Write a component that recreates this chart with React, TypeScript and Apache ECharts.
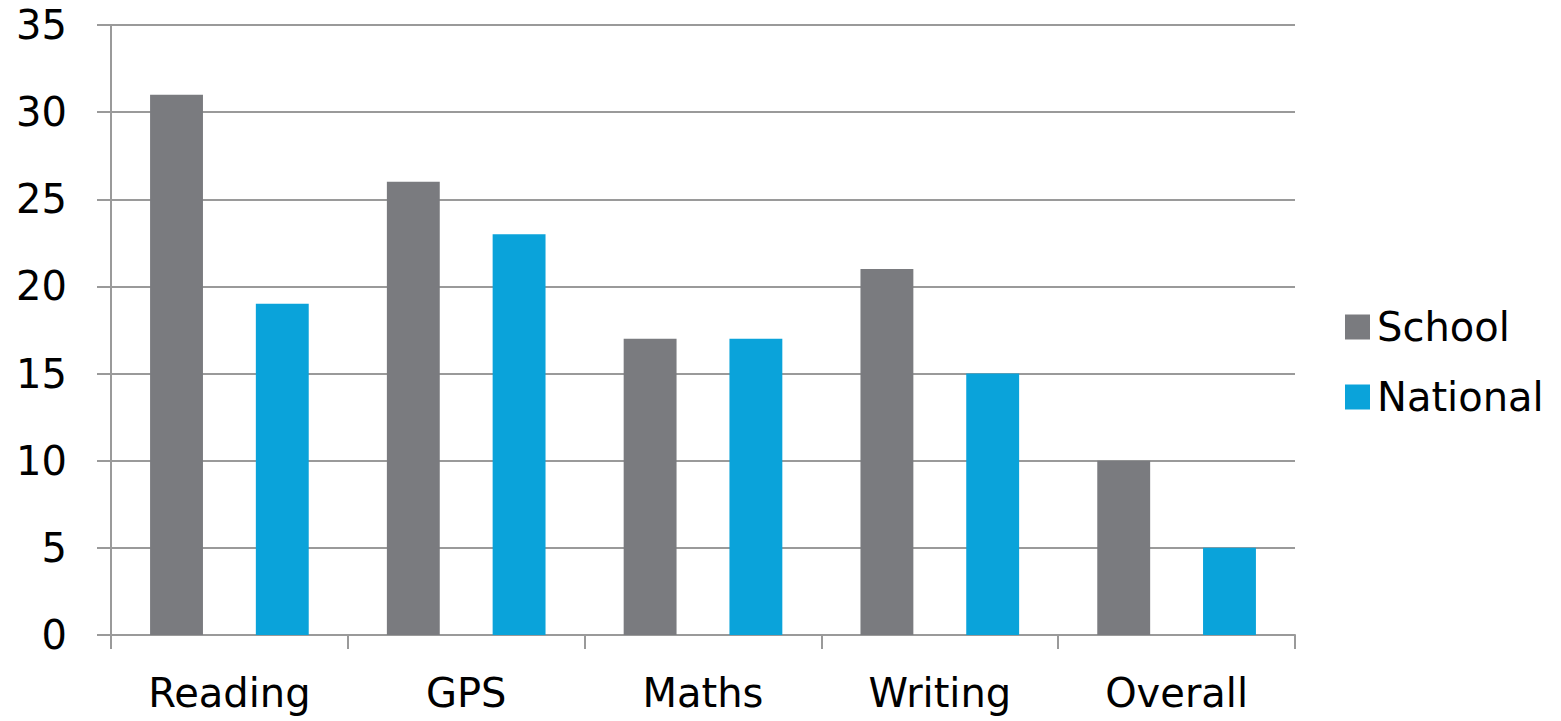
import React, { useEffect, useRef } from "react";
import * as echarts from "echarts";

const categories = ["Reading", "GPS", "Maths", "Writing", "Overall"];
const schoolValues = [31, 26, 17, 21, 10];
const nationalValues = [19, 23, 17, 15, 5];
const seriesNames = ["School", "National"];

const FONT = "'DejaVu Sans', sans-serif";
const AXIS_GRAY = "#9a9a9a";

export default function App() {
  const ref = useRef<HTMLDivElement>(null);

  useEffect(() => {
    document.body.style.margin = "0";
    if (!ref.current) return;
    const chart = echarts.init(ref.current, null, { renderer: "svg" });
    chart.setOption({
      animation: false,
      backgroundColor: "#ffffff",
      textStyle: { fontFamily: FONT },
      grid: { left: 111, right: 266, top: 25, bottom: 86, containLabel: false },
      legend: {
        orient: "vertical",
        left: 1340,
        top: 302,
        itemWidth: 25,
        itemHeight: 25,
        itemGap: 30,
        icon: "rect",
        textStyle: { fontSize: 40, color: "#000", fontFamily: FONT, padding: [0, 0, 0, 2] },
        data: seriesNames,
      },
      xAxis: {
        type: "category",
        data: categories,
        axisLine: { show: true, lineStyle: { color: AXIS_GRAY, width: 2 } },
        axisTick: { show: true, length: 14, alignWithLabel: false, lineStyle: { color: AXIS_GRAY, width: 2 } },
        axisLabel: { fontSize: 40, color: "#000", margin: 38, fontFamily: FONT },
        splitLine: { show: false },
      },
      yAxis: {
        type: "value",
        min: 0,
        max: 35,
        interval: 5,
        axisLine: { show: true, lineStyle: { color: AXIS_GRAY, width: 2 } },
        axisTick: { show: true, length: 14, lineStyle: { color: AXIS_GRAY, width: 2 } },
        axisLabel: { fontSize: 40, color: "#000", margin: 44, fontFamily: FONT },
        splitLine: { show: true, lineStyle: { color: AXIS_GRAY, width: 2 } },
      },
      series: [
        {
          name: seriesNames[0],
          type: "bar",
          data: schoolValues,
          itemStyle: { color: "#7a7b7f" },
          barGap: "100%",
          barCategoryGap: "33%",
        },
        {
          name: seriesNames[1],
          type: "bar",
          data: nationalValues,
          itemStyle: { color: "#0aa3da" },
          barGap: "100%",
          barCategoryGap: "33%",
        },
      ],
    });
    return () => chart.dispose();
  }, []);

  return <div ref={ref} style={{ width: 1561, height: 721 }} />;
}
